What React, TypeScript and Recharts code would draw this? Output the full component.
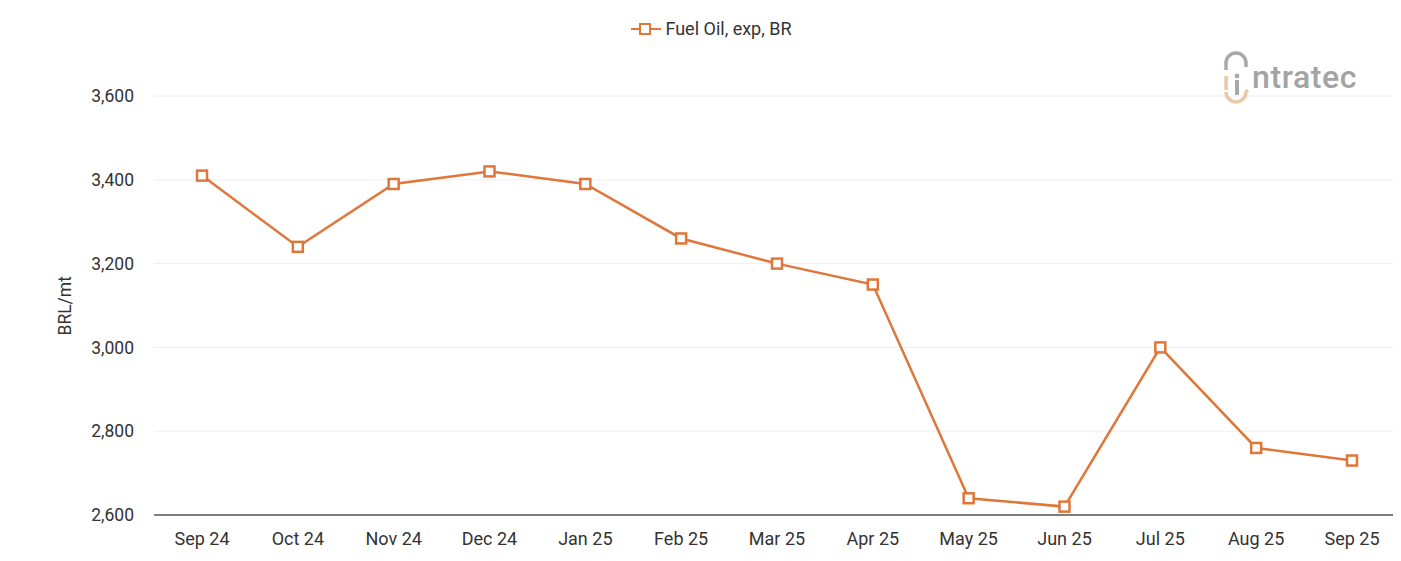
import { LineChart, Line, XAxis, YAxis, CartesianGrid, Legend } from "recharts";

const months = ["Sep 24", "Oct 24", "Nov 24", "Dec 24", "Jan 25", "Feb 25", "Mar 25", "Apr 25", "May 25", "Jun 25", "Jul 25", "Aug 25", "Sep 25"];
const fuelOil = [3410, 3240, 3390, 3420, 3390, 3260, 3200, 3150, 2640, 2620, 3000, 2760, 2730];
const yTicks = [2600, 2800, 3000, 3200, 3400, 3600];

const ORANGE = "#df773a";
const data = months.map((month, i) => ({ month, fuel: fuelOil[i] }));

const SquareDot = (props: any) => {
  const { cx, cy } = props;
  if (cx == null || cy == null) return null;
  return <rect x={cx - 5} y={cy - 5} width={10} height={10} fill="#fff" stroke={ORANGE} strokeWidth={2.5} />;
};

const LegendContent = () => (
  <div style={{ display: "flex", justifyContent: "center", alignItems: "center", fontFamily: "Roboto", fontSize: 18, color: "#333", marginLeft: 14 }}>
    <svg width={30} height={16} style={{ marginRight: 4 }}>
      <line x1={0} y1={8} x2={30} y2={8} stroke={ORANGE} strokeWidth={2} />
      <rect x={9} y={3} width={10} height={10} fill="#fff" stroke={ORANGE} strokeWidth={2} />
    </svg>
    <span>Fuel Oil, exp, BR</span>
  </div>
);

function Logo() {
  return (
    <div style={{ position: "absolute", left: 1214, top: 38, display: "flex", alignItems: "center", fontFamily: "Roboto", pointerEvents: "none" }}>
      <svg width={32} height={58} style={{ marginTop: 4 }}>
        <path d="M4 20 L4 13 A10 10 0 0 1 24 13 L24 17" fill="none" stroke="#a9a9a9" strokeWidth={3.5} />
        <path d="M4 42 A10 10 0 0 0 24 42 L26 40" fill="none" stroke="#e9c9a8" strokeWidth={3.5} />
        <rect x={2.3} y={26} width={3.5} height={14} fill="#e9c9a8" />
        <circle cx={15} cy={26} r={2.4} fill="#a9a9a9" />
        <rect x={13} y={30} width={4} height={15} fill="#a9a9a9" />
      </svg>
      <span style={{ fontSize: 32, fontWeight: 500, color: "#a3a3a3", letterSpacing: 0.6, marginLeft: -2 }}>ntratec</span>
    </div>
  );
}

export default function App() {
  return (
    <div style={{ position: "relative", width: 1393, height: 553 }}>
      <LineChart width={1393} height={553} data={data} margin={{ top: 67, right: 1, left: 0, bottom: 6 }}>
        <CartesianGrid stroke="#eeeeee" vertical={false} />
        <Legend verticalAlign="top" content={<LegendContent />} wrapperStyle={{ top: 10, left: 0, width: 1393 }} />
        <XAxis
          dataKey="month"
          tick={{ fontSize: 18, fill: "#333", fontFamily: "Roboto" }}
          tickLine={false}
          axisLine={{ stroke: "#555", strokeWidth: 1.5 }}
          tickMargin={11}
          height={40}
          interval={0}
          padding={{ left: 48, right: 48 }}
        />
        <YAxis
          domain={[2600, 3600]}
          ticks={yTicks}
          tickFormatter={(v: number) => v.toLocaleString("en-US")}
          tick={{ fontSize: 17.5, fill: "#333", fontFamily: "Roboto" }}
          tickLine={false}
          axisLine={false}
          tickMargin={14}
          width={146}
          label={{ value: "BRL/mt", angle: -90, position: "insideLeft", dx: 52, dy: 30, style: { fontSize: 17.5, fill: "#333", fontFamily: "Roboto" } }}
        />
        <Line
          type="linear"
          dataKey="fuel"
          name="Fuel Oil, exp, BR"
          stroke={ORANGE}
          strokeWidth={2.5}
          dot={<SquareDot />}
          activeDot={false}
          isAnimationActive={false}
        />
      </LineChart>
      <Logo />
    </div>
  );
}
